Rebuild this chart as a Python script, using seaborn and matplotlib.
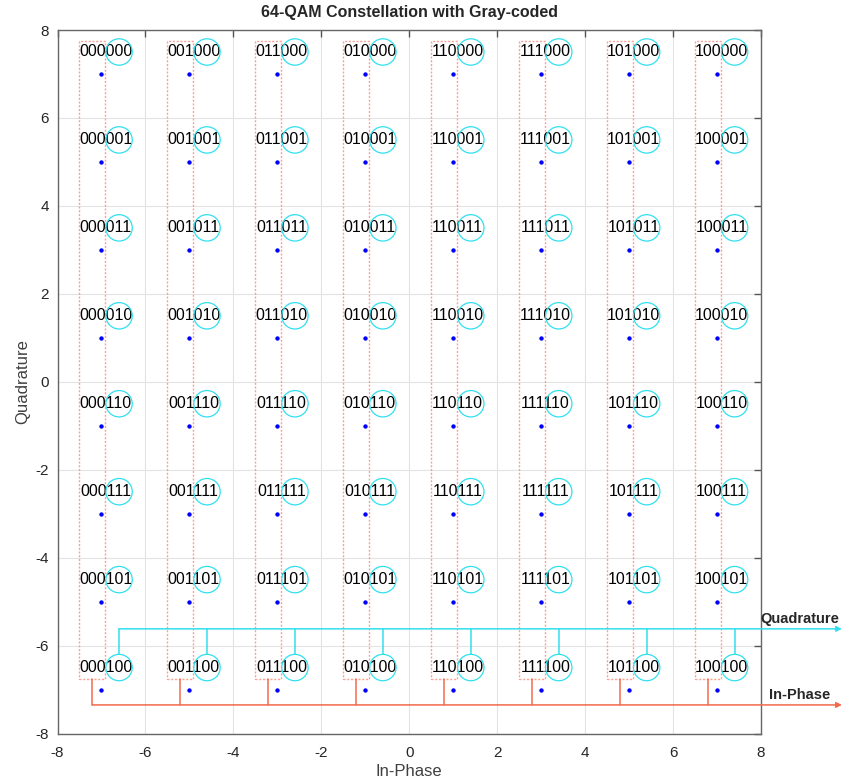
import numpy as np
import pandas as pd
import seaborn as sns
import matplotlib.pyplot as plt
from matplotlib.patches import Circle

# Constellation data
levels = [-7, -5, -3, -1, 1, 3, 5, 7]
gray_codes = ['000', '001', '011', '010', '110', '111', '101', '100']
# gray codes for rows, listed from the top row (Q = 7) down
row_levels = [7, 5, 3, 1, -1, -3, -5, -7]

title = '64-QAM Constellation with Gray-coded'
xticks = [-8, -6, -4, -2, 0, 2, 4, 6, 8]
yticks = [-8, -6, -4, -2, 0, 2, 4, 6, 8]

RED = '#f26a4b'
BOX = '#f7a393'
CYAN = '#30e0f0'

rows = []
for ci, x in enumerate(levels):
    for ri, y in enumerate(row_levels):
        rows.append({'I': x, 'Q': y, 'col_bits': gray_codes[ci], 'row_bits': gray_codes[ri]})
df = pd.DataFrame(rows)
df['label'] = df['col_bits'] + df['row_bits']

sns.set_style('white')
plt.rcParams['font.family'] = ['Liberation Sans', 'DejaVu Sans']
plt.rcParams['axes.unicode_minus'] = False

fig = plt.figure(figsize=(8.43, 7.82), dpi=100)
ax = fig.add_axes([57.5 / 843, 1 - 733.5 / 782, 703.5 / 843, 703.5 / 782])

sns.scatterplot(data=df, x='I', y='Q', color='blue', s=10, linewidth=0, ax=ax, zorder=3)

# labels, circles around the Q bits
for _, r in df.iterrows():
    ax.text(r['I'] + 0.1, r['Q'] + 0.5, r['label'], ha='center', va='center',
            fontsize=11.5, color='black', zorder=4)
    ax.add_patch(Circle((r['I'] + 0.4, r['Q'] + 0.5), 0.3, fill=False,
                        edgecolor=CYAN, linewidth=0.9, zorder=4))

# dotted boxes around the I bits of each column
top = max(levels) + 0.75
bot = min(levels) + 0.25
for x in levels:
    x0, x1 = x - 0.5, x + 0.08
    ax.plot([x0, x1, x1, x0, x0], [bot, bot, top, top, bot], color=BOX,
            linestyle=(0, (1.5, 1.2)), linewidth=1.0, zorder=2)

# In-Phase bus
y_i = -7.35
x_end = 9.84
for x in levels:
    ax.plot([x - 0.21, x - 0.21], [bot, y_i], color=RED, lw=1.1, clip_on=False, zorder=2)
ax.annotate('', xy=(x_end, y_i), xytext=(levels[0] - 0.21, y_i), annotation_clip=False,
            arrowprops=dict(arrowstyle='-|>', color=RED, lw=1.1, mutation_scale=8,
                            shrinkA=0, shrinkB=0))
ax.text(8.87, y_i + 0.07, 'In-Phase', ha='center', va='bottom', fontsize=10.5,
        fontweight='bold', clip_on=False)

# Quadrature bus
y_q = -5.62
for x in levels:
    ax.plot([x + 0.4, x + 0.4], [min(levels) + 0.8, y_q], color=CYAN, lw=1.1,
            clip_on=False, zorder=2)
ax.annotate('', xy=(x_end, y_q), xytext=(levels[0] + 0.4, y_q), annotation_clip=False,
            arrowprops=dict(arrowstyle='-|>', color=CYAN, lw=1.1, mutation_scale=8,
                            shrinkA=0, shrinkB=0))
ax.text(8.88, y_q + 0.07, 'Quadrature', ha='center', va='bottom', fontsize=10.5,
        fontweight='bold', clip_on=False)

ax.set_xlim(-8, 8)
ax.set_ylim(-8, 8)
ax.set_xticks(xticks)
ax.set_yticks(yticks)
ax.grid(True, color='#e3e3e3', linewidth=0.8)
ax.set_axisbelow(True)
ax.tick_params(direction='in', length=5, width=1, colors='#555555', labelcolor='#262626',
               labelsize=11, top=True, right=True)
ax.tick_params(axis='x', pad=9)
ax.tick_params(axis='y', pad=6)
for s in ax.spines.values():
    s.set_color('#666666')
    s.set_linewidth(1)

ax.set_xlabel('In-Phase', fontsize=12, color='#404040', labelpad=3)
ax.set_ylabel('Quadrature', fontsize=12, color='#404040', labelpad=4)
ax.set_title(title, fontsize=11.5, fontweight='bold', pad=9)

fig.savefig('out.png', dpi=100)
